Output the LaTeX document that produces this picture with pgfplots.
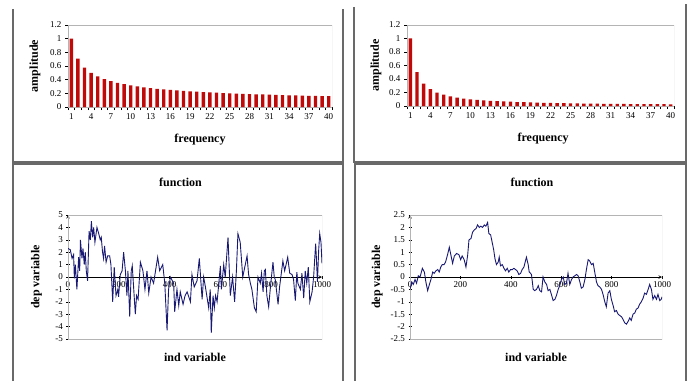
\documentclass[border=0pt]{standalone}
\usepackage{pgfplots}
\usepackage{pgfplotstable}
\pgfplotsset{compat=1.18}
\usepackage{fontspec}
\setmainfont{Liberation Serif}
\definecolor{barred}{RGB}{192,10,10}
\definecolor{navyline}{RGB}{25,25,115}
\definecolor{framegray}{RGB}{105,105,105}
\definecolor{plotgray}{RGB}{180,180,180}

\pgfplotstableread{
f a
1 1.000
2 0.707
3 0.577
4 0.500
5 0.447
6 0.408
7 0.378
8 0.354
9 0.333
10 0.316
11 0.302
12 0.289
13 0.277
14 0.267
15 0.258
16 0.250
17 0.243
18 0.236
19 0.229
20 0.224
21 0.218
22 0.213
23 0.209
24 0.204
25 0.200
26 0.196
27 0.192
28 0.189
29 0.186
30 0.183
31 0.180
32 0.177
33 0.174
34 0.171
35 0.169
36 0.167
37 0.164
38 0.162
39 0.160
40 0.158
}\specA

\pgfplotstableread{
f a
1 1.000
2 0.500
3 0.333
4 0.250
5 0.200
6 0.167
7 0.143
8 0.125
9 0.111
10 0.100
11 0.091
12 0.083
13 0.077
14 0.071
15 0.067
16 0.063
17 0.059
18 0.056
19 0.053
20 0.050
21 0.048
22 0.045
23 0.043
24 0.042
25 0.040
26 0.038
27 0.037
28 0.036
29 0.034
30 0.033
31 0.032
32 0.031
33 0.030
34 0.029
35 0.029
36 0.028
37 0.027
38 0.026
39 0.026
40 0.025
}\specB

\pgfplotstableread{
x y
0 2.3
9 2.2
16 1.5
22 1.8
25 -0.1
29 1.0
35 -1.0
42 1.6
46 0.5
49 3.0
55 1.5
59 2.3
64 1.0
68 2.0
72 0.5
77 -0.3
83 3.7
88 3.0
92 4.5
97 3.2
101 4.0
106 2.8
114 4.0
121 3.5
127 3.0
131 3.2
136 2.0
140 1.5
144 2.5
150 1.2
156 1.7
164 1.7
169 1.0
176 -2.0
182 0.8
189 -1.5
196 -1.0
199 -1.6
206 0.2
213 0.5
219 2.0
226 0.5
232 -1.5
236 0.5
243 -3.2
249 0.5
253 0.9
265 -3.0
270 -1.5
276 -1.8
285 1.2
295 0.5
303 -1.0
311 0.5
318 -1.3
327 0.0
337 -0.5
353 1.6
361 0.5
373 1.0
381 -0.5
390 -4.3
396 -1.0
403 0.0
416 -0.5
420 -2.8
429 -1.0
436 -2.3
442 -1.2
453 -2.2
461 -1.5
469 -1.2
482 -2.0
488 0.2
497 -0.8
508 -0.3
517 1.5
528 -1.8
534 0.0
541 -0.8
554 -2.5
560 -1.0
564 -4.5
571 -1.5
576 -2.5
581 -1.5
587 -2.0
600 0.9
604 -1.0
613 1.0
619 0.0
630 3.2
639 -1.5
648 0.0
656 -2.0
663 0.5
669 3.5
678 2.8
688 0.0
696 0.8
705 1.7
711 0.2
718 -0.5
724 -1.0
734 -2.5
741 -2.8
748 0.0
757 -0.5
762 0.3
768 -1.2
773 0.5
777 0.6
783 -1.5
790 -2.4
797 -0.8
807 1.2
812 0.0
816 -0.2
827 -2.2
833 -0.8
846 1.3
853 0.5
865 1.6
873 0.3
882 0.2
888 -0.2
895 -1.9
901 0.4
905 -0.5
915 -1.0
921 0.3
928 -1.7
934 0.5
940 -0.5
946 0.8
952 -2.0
961 -1.2
967 0.0
975 2.7
978 1.5
982 -0.4
987 2.2
991 3.5
996 2.8
1000 1.1
}\noiseA

\pgfplotstableread{
x y
0 -0.5
7 -0.2
13 -0.3
20 -0.1
26 -0.25
33 0.05
40 0.0
49 0.35
57 0.2
63 -0.2
70 -0.55
77 -0.3
83 -0.1
90 0.2
96 0.15
103 0.25
110 0.3
116 0.2
122 0.4
128 0.5
135 0.5
141 0.6
149 0.9
156 1.2
162 0.9
169 0.55
176 0.85
185 0.95
194 0.9
201 0.7
207 0.85
215 0.7
222 0.4
229 0.9
234 1.5
242 1.55
248 1.8
255 1.9
262 1.95
268 2.1
275 2.0
281 2.05
288 2.0
295 2.1
301 2.05
308 2.2
313 1.75
320 1.7
326 1.4
332 1.1
337 0.75
343 0.5
350 0.6
354 0.8
359 0.45
366 0.5
373 0.35
379 0.25
386 0.35
392 0.2
399 0.3
406 0.3
412 0.35
419 0.3
425 0.25
432 0.1
439 0.15
445 0.3
452 0.4
457 0.6
462 0.8
469 0.5
473 0.2
478 0.15
482 0.1
489 -0.5
495 -0.55
502 -0.5
509 -0.35
515 -0.55
522 -0.6
528 0.0
535 -0.2
542 -0.3
548 -0.55
555 -0.5
561 -0.7
568 -0.95
575 -0.9
581 -0.75
588 -0.5
594 -0.35
601 -0.1
608 0.0
614 -0.3
621 -0.25
627 0.15
634 -0.3
641 -0.1
647 0.0
654 0.05
661 0.1
667 0.05
674 -0.2
680 -0.45
687 -0.4
694 -0.1
700 0.3
707 0.7
713 0.65
720 0.5
727 0.55
733 0.2
740 -0.2
746 -0.35
753 -0.4
760 -0.5
766 -0.7
773 -1.0
779 -1.2
786 -0.65
793 -0.55
799 -0.9
806 -1.15
812 -1.4
819 -1.35
826 -1.5
832 -1.55
839 -1.6
845 -1.7
852 -1.85
859 -1.9
865 -1.8
872 -1.65
878 -1.75
885 -1.5
892 -1.45
898 -1.3
905 -1.25
911 -1.1
918 -1.0
925 -0.85
931 -0.65
938 -0.7
945 -0.5
951 -0.3
958 -0.5
964 -0.9
971 -0.75
978 -0.9
984 -0.7
991 -0.95
997 -0.9
1000 -0.8
}\noiseB

\pgfplotsset{
  panel/.style={
    scale only axis, anchor=south west,
    /pgf/number format/assume math mode=true,
    /pgf/number format/1000 sep={},
    tick label style={font=\fontsize{9}{10}\selectfont},
    label style={font=\fontsize{12}{14}\selectfont\bfseries},
    title style={font=\fontsize{12}{14}\selectfont\bfseries},
    axis line style={black, line width=0.6pt, -},
    tick style={black, line width=0.5pt},
    major tick length=3pt, minor tick length=3pt,
  },
  barpanel/.style={
    panel,
    xmin=0.5, xmax=40.5, ymin=0, ymax=1.2,
    axis x line*=bottom, axis y line*=left,
    ytick={0,0.2,0.4,0.6,0.8,1,1.2},
    xtick={1,4,...,40},
    minor xtick={0.5,1.5,...,40.5},
    major x tick style={draw=none},
    minor x tick style={black, line width=0.5pt},
    tick align=outside,
    xtick pos=bottom, ytick pos=left,
    xlabel={frequency}, ylabel={amplitude},
  },
  linepanel/.style={
    panel,
    xmin=0, xmax=1000,
    axis x line=middle, axis y line=left,
    hide obscured x ticks=false, hide obscured y ticks=false,
    xtick={0,200,400,600,800,1000},
    xticklabel style={anchor=north, yshift=1pt},
    tick align=center,
    xlabel={ind variable}, ylabel={dep variable},
    title={function},
  }
}

\begin{document}
\begin{tikzpicture}[x=1pt,y=1pt]
\useasboundingbox (0,0) rectangle (690,381);
% panel frames
\draw[framegray, line width=1.2pt] (13,372) -- (13,219) -- (343,219) -- (343,372);
\draw[framegray, line width=1.2pt] (354,374) -- (354,219) -- (686,219) -- (686,377);
\draw[framegray, line width=1.2pt] (13,0) -- (13,217) -- (343,217) -- (343,0);
\draw[framegray, line width=1.2pt] (355,0) -- (355,217) -- (686,217) -- (686,0);

% top-left
\begin{axis}[barpanel, at={(68pt,274pt)}, width=264pt, height=82pt,
  ylabel style={at={(axis description cs:-0.125,0.5)}, anchor=center},
  xlabel style={at={(axis description cs:0.5,-0.40)}, anchor=center}]
\draw[plotgray] (rel axis cs:0,0) rectangle (rel axis cs:1,1);
\addplot[ybar, bar width=3.4pt, fill=barred, draw=none] table[x=f, y=a] {\specA};
\end{axis}

% top-right
\begin{axis}[barpanel, at={(407pt,275pt)}, width=267pt, height=81pt,
  ylabel style={at={(axis description cs:-0.116,0.5)}, anchor=center},
  xlabel style={at={(axis description cs:0.51,-0.40)}, anchor=center}]
\draw[plotgray] (rel axis cs:0,0) rectangle (rel axis cs:1,1);
\addplot[ybar, bar width=3.4pt, fill=barred, draw=none] table[x=f, y=a] {\specB};
\end{axis}

% bottom-left
\begin{axis}[linepanel, at={(68pt,42pt)}, width=254pt, height=124pt,
  ymin=-5, ymax=5, ytick={-5,-4,-3,-2,-1,0,1,2,3,4,5},
  ylabel style={at={(axis description cs:-0.124,0.5)}, anchor=center},
  xlabel style={at={(axis description cs:0.5,-0.145)}, anchor=center, font=\fontsize{12}{14}\selectfont\bfseries},
  title style={at={(axis description cs:0.443,1.218)}, anchor=center}]
\draw[plotgray] (rel axis cs:0,0) rectangle (rel axis cs:1,1);
\addplot[navyline, line width=0.9pt, mark=none] table[x=x, y=y] {\noiseA};
\end{axis}

% bottom-right
\begin{axis}[linepanel, at={(410pt,42pt)}, width=252pt, height=124pt,
  ymin=-2.5, ymax=2.5, ytick={-2.5,-2,-1.5,-1,-0.5,0,0.5,1,1.5,2,2.5},
  ylabel style={at={(axis description cs:-0.13,0.5)}, anchor=center},
  xlabel style={at={(axis description cs:0.5,-0.145)}, anchor=center, font=\fontsize{12}{14}\selectfont\bfseries},
  title style={at={(axis description cs:0.484,1.218)}, anchor=center}]
\draw[plotgray] (rel axis cs:0,0) rectangle (rel axis cs:1,1);
\addplot[navyline, line width=0.9pt, mark=none] table[x=x, y=y] {\noiseB};
\end{axis}
\end{tikzpicture}
\end{document}
